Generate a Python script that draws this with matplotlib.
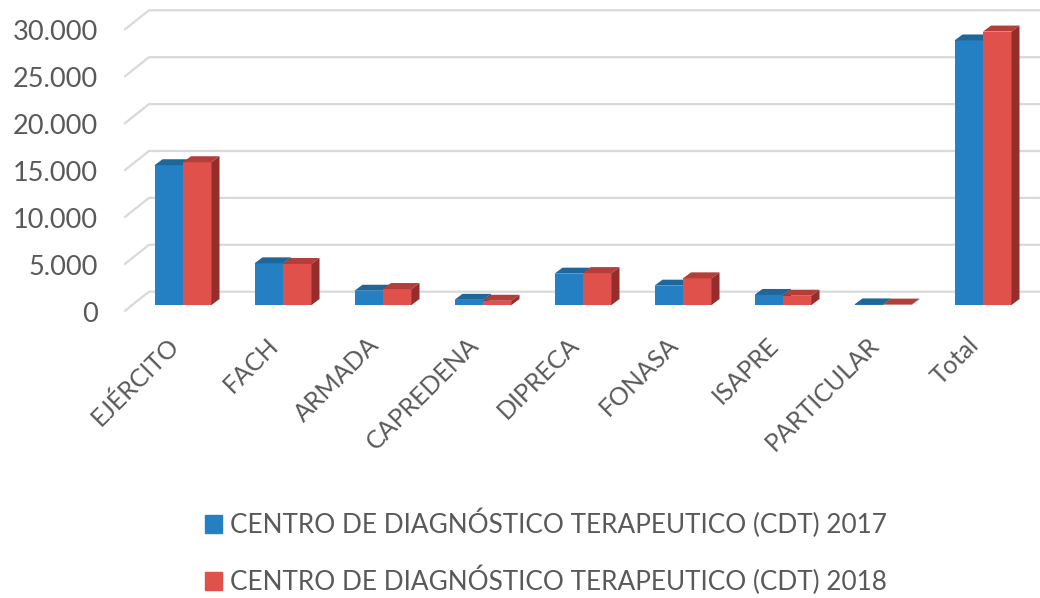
import numpy as np
import matplotlib.pyplot as plt
from matplotlib.patches import Polygon, Patch

plt.rcParams['font.family'] = ['Lato', 'DejaVu Sans']

# Datos
categorias = ['EJÉRCITO', 'FACH', 'ARMADA', 'CAPREDENA', 'DIPRECA',
              'FONASA', 'ISAPRE', 'PARTICULAR', 'Total']
cdt_2017 = [14900, 4440, 1520, 550, 3340, 2060, 1070, 60, 28200]
cdt_2018 = [15220, 4370, 1700, 450, 3400, 2840, 990, 40, 29150]
series = ['CENTRO DE DIAGNÓSTICO TERAPEUTICO (CDT) 2017',
          'CENTRO DE DIAGNÓSTICO TERAPEUTICO (CDT) 2018']
yticks = [0, 5000, 10000, 15000, 20000, 25000, 30000]
ytick_labels = ['0', '5.000', '10.000', '15.000', '20.000', '25.000', '30.000']

# colores (frente, tapa, lado)
colores = [('#2580C3', '#1F6699', '#1B5380'),
           ('#E0514B', '#B33E3A', '#952D2B')]
gris = '#595959'

fig = plt.figure(figsize=(10.4, 5.98), dpi=100)
W, H = 1040, 598
# escala: 0 en y=305 px, categorías cada 100 px desde x=183
k = 46.9 / 5000
ymin, ymax = -1500, 32500
y_bot = 305 + ymin * -k
y_top = 305 - ymax * k
xmin, xmax = -0.59, 8.57
ax = fig.add_axes([(183 + xmin * 100) / W, (H - y_bot) / H,
                   (xmax - xmin) * 100 / W, (y_bot - y_top) / H])
ax.set_xlim(xmin, xmax)
ax.set_ylim(ymin, ymax)

# profundidad de las paredes (en unidades de datos)
off_front = -6.5 / k
off_back = 13.3 / k
x_front = -0.59
x_back = -0.34
for v in yticks:
    ax.plot([x_front, x_back, xmax + 1], [v + off_front, v + off_back, v + off_back],
            color='#D9D9D9', lw=1.6, zorder=1, solid_capstyle='butt')

# barras 3D simuladas
w = 0.285
dx = 0.08
dy = 6 / k
x = np.arange(len(categorias))
for i in x:
    for s, vals in enumerate([cdt_2017, cdt_2018]):
        v = vals[i]
        xl = i - w + s * w
        xr = xl + w
        fr, tp, sd = colores[s]
        z = 2 + i * 2 + s
        ax.bar(xl, v, width=w, align='edge', color=fr, zorder=z, lw=0)
        ax.add_patch(Polygon([(xl, v), (xl + dx, v + dy), (xr + dx, v + dy), (xr, v)],
                             closed=True, color=tp, lw=0, zorder=z))
        ax.add_patch(Polygon([(xr, 0), (xr + dx, dy), (xr + dx, v + dy), (xr, v)],
                             closed=True, color=sd, lw=0, zorder=z))

for sp in ax.spines.values():
    sp.set_visible(False)
ax.set_yticks(np.array(yticks) + off_front, labels=ytick_labels)
ax.set_xticks(x, labels=categorias, rotation=45, ha='right')
ax.tick_params(axis='y', length=0, pad=19, labelsize=19.5, labelcolor=gris)
ax.tick_params(axis='x', length=0, pad=10, labelsize=18, labelcolor=gris)

handles = [Patch(color=colores[0][0]), Patch(color=colores[1][0])]
fig.legend(handles, series, loc='center', bbox_to_anchor=(0.525, 0.077),
           frameon=False, fontsize=18.8, labelcolor=gris, handlelength=0.65,
           handleheight=0.65, handletextpad=0.3, labelspacing=1.05)

fig.savefig('out.png', dpi=100)
